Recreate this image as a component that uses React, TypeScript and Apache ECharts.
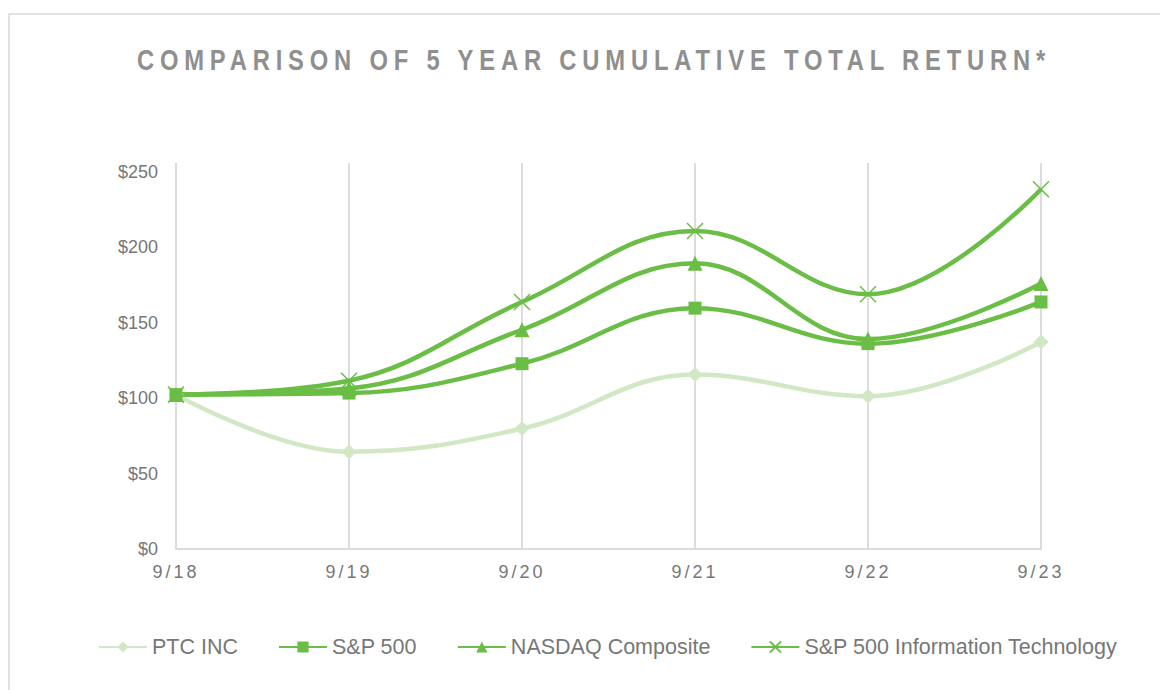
import React, { useEffect, useRef } from "react";
import * as echarts from "echarts";

const TITLE = "COMPARISON OF 5 YEAR CUMULATIVE TOTAL RETURN*";
const CATEGORIES = ["9/18", "9/19", "9/20", "9/21", "9/22", "9/23"];
const PTC_INC = [100, 63, 78, 113, 99, 134];
const SP_500 = [100, 101, 120, 156, 133, 160];
const NASDAQ = [100, 104, 142, 185, 136, 172];
const SP_IT = [100, 109, 160, 206, 165, 233];
const Y_MIN = 0;
const Y_MAX = 250;
const Y_STEP = 50;
const LEGEND_NAMES = ["PTC INC", "S&P 500", "NASDAQ Composite", "S&P 500 Information Technology"];

const DARK = "#6abd45";
const LIGHT = "#d2e8c5";
const LABEL = "#777777";
const GRIDC = "#dcdcdc";
const FONT = "'Liberation Sans', Arial, sans-serif";

function applySpacing(root: HTMLElement) {
  const texts = root.querySelectorAll("text");
  texts.forEach((t) => {
    const s = (t.textContent || "").trim();
    if (s === TITLE) {
      (t as any).style.letterSpacing = "7.1px";
    } else if (CATEGORIES.indexOf(s) >= 0) {
      (t as any).style.letterSpacing = "3px";
    }
  });
}

export default function App() {
  const ref = useRef<HTMLDivElement>(null);
  useEffect(() => {
    document.body.style.margin = "0";
    const el = ref.current!;
    const chart = echarts.init(el, null, { renderer: "svg" });
    const lineSeries = (name: string, data: number[], color: string, symbol: string, size: number, extra: any = {}) => ({
      name,
      type: "line",
      data,
      yAxisIndex: 0,
      smooth: 0.4,
      symbol,
      symbolSize: size,
      showSymbol: true,
      lineStyle: { color, width: 4.5 },
      itemStyle: { color, ...extra },
      emphasis: { disabled: true },
    });
    chart.setOption({
      animation: false,
      backgroundColor: "#ffffff",
      graphic: [
        {
          type: "rect",
          shape: { x: 9, y: 14, width: 1200, height: 720 },
          style: { fill: "none", stroke: "#e2e2e2", lineWidth: 2 },
          silent: true,
        },
        {
          type: "text",
          x: 594,
          y: 60,
          scaleX: 0.82,
          style: {
            text: TITLE,
            fill: "#8f8f8f",
            font: `bold 29px ${FONT}`,
            textAlign: "center",
            textVerticalAlign: "middle",
          },
          silent: true,
        },
      ],
      grid: { left: 176, right: 119, top: 163, bottom: 141 },
      legend: {
        left: 93,
        top: 631,
        itemWidth: 48,
        itemHeight: 14,
        itemGap: 40,
        textStyle: { color: LABEL, fontSize: 21.5, fontFamily: FONT },
        data: LEGEND_NAMES,
      },
      xAxis: {
        type: "category",
        data: CATEGORIES,
        boundaryGap: false,
        axisLine: { show: true, lineStyle: { color: GRIDC, width: 2 } },
        axisTick: { show: false },
        axisLabel: { color: LABEL, fontSize: 18, fontFamily: FONT, margin: 14 },
        splitLine: { show: true, lineStyle: { color: GRIDC, width: 2 } },
      },
      yAxis: [
        {
          type: "value",
          min: Y_MIN,
          max: Y_MAX,
          interval: Y_STEP,
          axisLine: { show: false },
          axisTick: { show: false },
          splitLine: { show: false },
          axisLabel: { show: false },
        },
        {
          type: "value",
          position: "left",
          min: Y_MIN,
          max: 256,
          interval: Y_STEP,
          axisLine: { show: false },
          axisTick: { show: false },
          splitLine: { show: false },
          axisLabel: {
            color: LABEL,
            fontSize: 18,
            fontFamily: FONT,
            margin: 18,
            showMaxLabel: false,
            formatter: (v: number) => (v % Y_STEP === 0 && v <= Y_MAX ? "$" + v : ""),
          },
        },
      ],
      series: [
        lineSeries("PTC INC", PTC_INC, LIGHT, "diamond", 15),
        lineSeries("S&P 500", SP_500, DARK, "rect", 13),
        lineSeries("NASDAQ Composite", NASDAQ, DARK, "triangle", 15),
        lineSeries("S&P 500 Information Technology", SP_IT, DARK, "path://M0,0L10,10M10,0L0,10", 16, {
          borderColor: DARK,
          borderWidth: 1.5,
        }),
      ],
    });
    applySpacing(el);
    chart.on("finished", () => applySpacing(el));
    const raf = requestAnimationFrame(() => applySpacing(el));
    return () => {
      cancelAnimationFrame(raf);
      chart.dispose();
    };
  }, []);
  return (
    <div
      ref={ref}
      style={{ position: "absolute", left: 0, top: 0, width: 1160, height: 690 }}
    />
  );
}
